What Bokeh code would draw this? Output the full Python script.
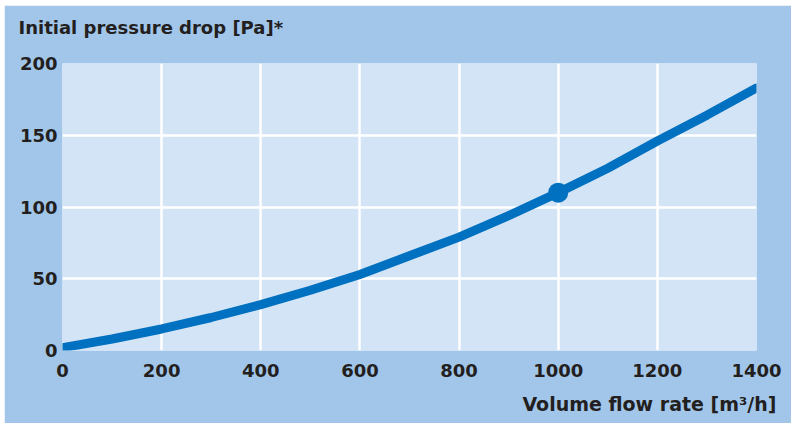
from bokeh.plotting import figure
from bokeh.models import Title, FixedTicker, Range1d
from bokeh.embed import file_html
from bokeh.resources import INLINE

# data
flow = [0, 100, 200, 300, 400, 500, 600, 700, 800, 900, 1000, 1100, 1200, 1300, 1400]
pressure = [2, 8, 15, 23, 32, 42, 53, 66, 79, 94, 110, 127, 146, 164, 183]
marker_flow = [1000]
marker_pressure = [110]
x_ticks = [0, 200, 400, 600, 800, 1000, 1200, 1400]
y_ticks = [0, 50, 100, 150, 200]
y_title = "Initial pressure drop [Pa]*"
x_title = "Volume flow rate [m³/h]"

OUTER = "#a2c6ea"
INNER = "#d2e4f5"
BLUE = "#0070c0"
TEXT = "#231f20"
FONT = "DejaVu Sans"

p = figure(output_backend="svg", toolbar_location=None,
           frame_width=694, frame_height=287,
           min_border_left=58, min_border_right=35,
           min_border_top=58, min_border_bottom=73,
           margin=(5, 0, 0, 4),
           x_range=Range1d(0, 1400), y_range=Range1d(0, 200))
p.border_fill_color = OUTER
p.background_fill_color = INNER
p.outline_line_color = None

for ax in (p.xaxis[0], p.yaxis[0]):
    ax.axis_line_color = None
    ax.major_tick_line_color = None
    ax.minor_tick_line_color = None
    ax.major_label_text_font = FONT
    ax.major_label_text_font_style = "bold"
    ax.major_label_text_font_size = "18px"
    ax.major_label_text_color = TEXT
p.xaxis[0].ticker = FixedTicker(ticks=x_ticks)
p.yaxis[0].ticker = FixedTicker(ticks=y_ticks)
p.xaxis[0].major_label_standoff = 7
p.yaxis[0].major_tick_out = 0
p.yaxis[0].major_label_standoff = 5

p.xgrid.ticker = FixedTicker(ticks=x_ticks)
p.ygrid.ticker = FixedTicker(ticks=y_ticks)
for g in (p.xgrid[0], p.ygrid[0]):
    g.grid_line_color = "white"
    g.grid_line_width = 2.5

p.line(flow, pressure, line_color=BLUE, line_width=9, line_cap="round", line_join="round")
p.scatter(marker_flow, marker_pressure, size=20, fill_color=BLUE, line_color=None)

# spacer between frame and the top title
p.add_layout(Title(text="\u00a0", standoff=0, text_font=FONT, text_font_size="21px",
                   text_color=OUTER), "above")
p.add_layout(Title(text=y_title, align="left", offset=-44, standoff=0,
                   text_font=FONT, text_font_style="bold", text_font_size="18px",
                   text_color=TEXT), "above")
p.add_layout(Title(text=x_title, align="right", offset=-20, standoff=22,
                   text_font=FONT, text_font_style="bold", text_font_size="19px",
                   text_color=TEXT), "below")

open("out.html", "w").write(file_html(p, INLINE))
